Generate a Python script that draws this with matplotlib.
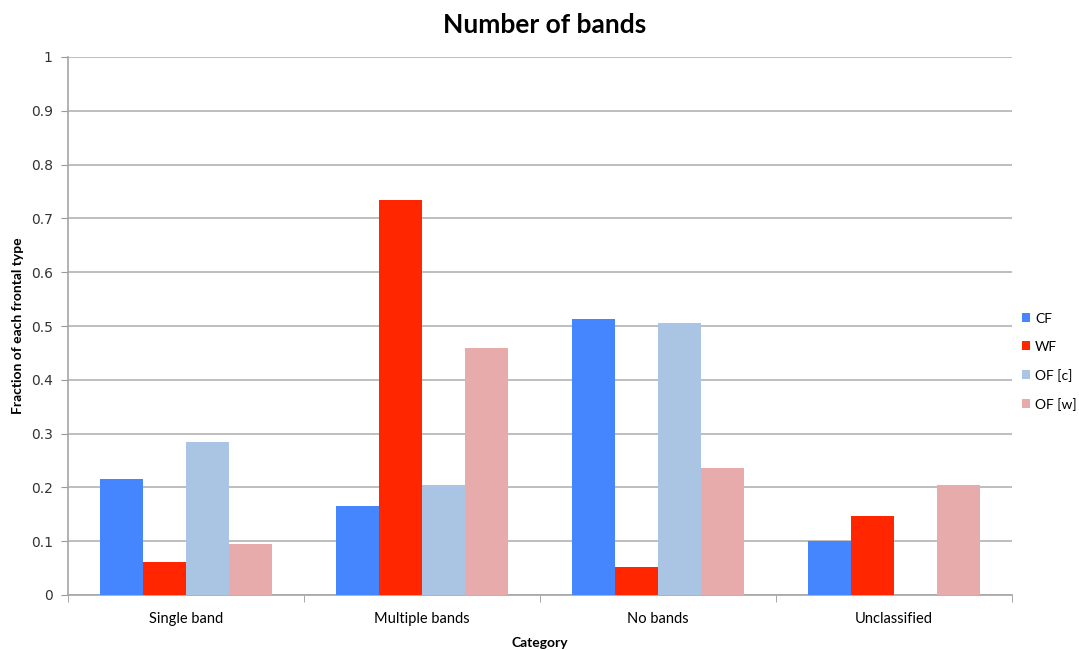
import matplotlib
matplotlib.use("Agg")
import matplotlib.pyplot as plt
import numpy as np

categories = ["Single band", "Multiple bands", "No bands", "Unclassified"]
series_names = ["CF", "WF", "OF [c]", "OF [w]"]
cf = [0.216, 0.165, 0.513, 0.100]
wf = [0.062, 0.735, 0.052, 0.147]
of_c = [0.284, 0.204, 0.506, 0.0]
of_w = [0.095, 0.459, 0.236, 0.204]
colors = ["#4586FF", "#FF2600", "#AAC4E4", "#E6ABAA"]

plt.rcParams["font.family"] = ["Lato", "DejaVu Sans"]

fig = plt.figure(figsize=(10.79, 6.5), dpi=100)
ax = fig.add_axes([68 / 1079, 1 - 595 / 650, 944 / 1079, 538 / 650])

x = np.arange(len(categories))
bw = 0.182
for i, (vals, name, c) in enumerate(zip([cf, wf, of_c, of_w], series_names, colors)):
    ax.bar(x + (i - 1.5) * bw, vals, bw, color=c, label=name, zorder=3,
           edgecolor="none")

ax.set_xlim(-0.5, len(categories) - 0.5)
ax.set_ylim(0, 1)
ax.set_yticks(np.arange(0, 1.01, 0.1))
ax.set_yticklabels(["0"] + [f"{v:.1f}" for v in np.arange(0.1, 0.95, 0.1)] + ["1"],
                   fontsize=10, family=["DejaVu Sans"], color="#333333")
ax.set_xticks(x)
ax.set_xticklabels(categories, fontsize=10.5)
ax.set_xticks(np.arange(-0.5, len(categories), 1.0), minor=True)
ax.tick_params(axis="x", which="major", length=0, pad=12)
ax.tick_params(axis="x", which="minor", length=5, color="#999999")
ax.tick_params(axis="y", length=5, color="#999999", pad=6)

ax.grid(axis="y", color="#B3B3B3", linewidth=1.2, zorder=0)
for s in ["top", "right"]:
    ax.spines[s].set_visible(False)
for s in ["left", "bottom"]:
    ax.spines[s].set_color("#A6A6A6")
    ax.spines[s].set_linewidth(1.2)

fig.text(545 / 1079, 1 - 25 / 650, "Number of bands", ha="center", va="center",
         fontsize=19, fontweight="bold")
fig.text(540 / 1079, 1 - 643 / 650, "Category", ha="center", va="center",
         fontsize=10, fontweight="bold")
fig.text(18 / 1079, 1 - 326 / 650, "Fraction of each frontal type", ha="center",
         va="center", rotation=90, fontsize=10, fontweight="bold")

leg = fig.legend(loc="upper left", bbox_to_anchor=(1019 / 1079, 1 - 310 / 650),
                 frameon=False, fontsize=10, handlelength=0.6, handleheight=0.6,
                 handletextpad=0.35, labelspacing=1.15, borderaxespad=0,
                 borderpad=0.2)

fig.savefig("out.png", dpi=100)
